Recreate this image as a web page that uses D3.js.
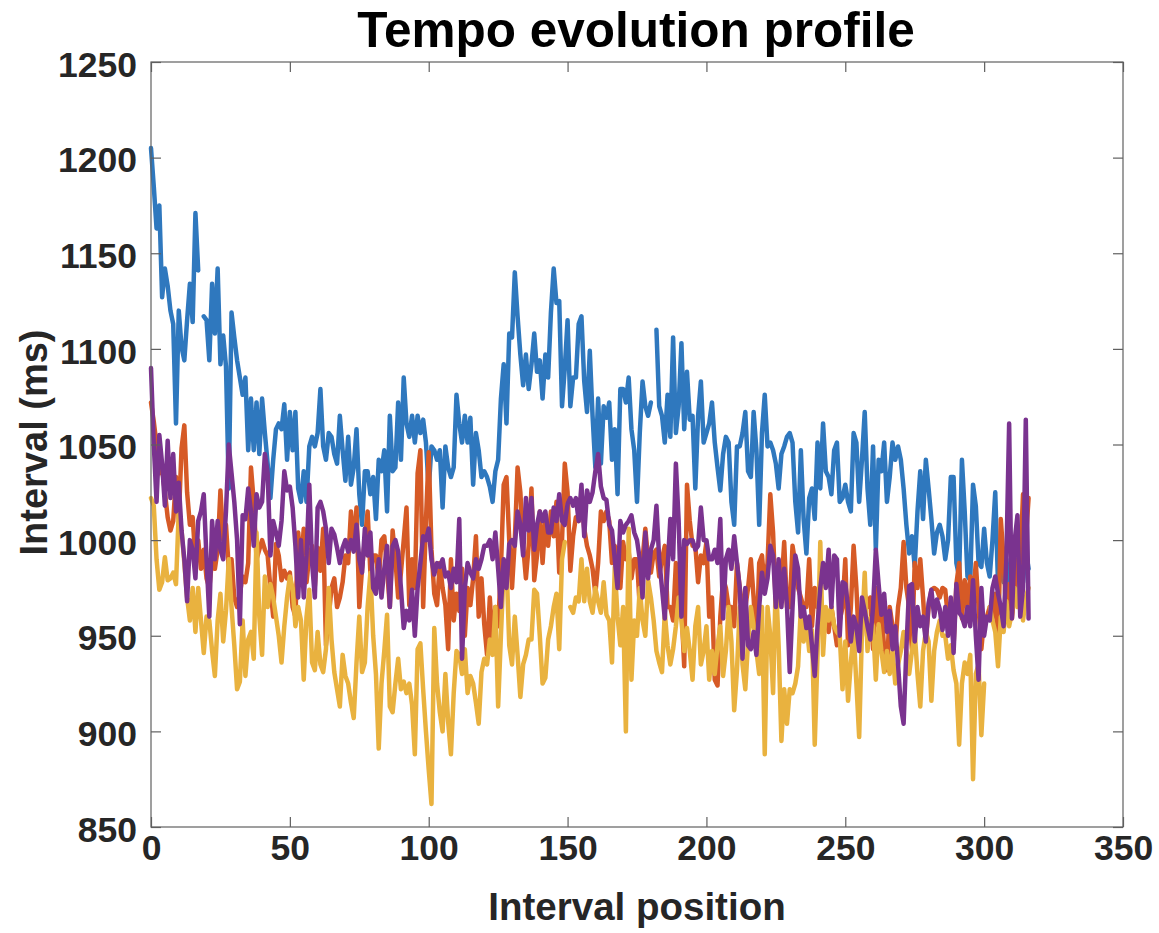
<!DOCTYPE html>
<html>
<head>
<meta charset="utf-8">
<script src="https://cdn.jsdelivr.net/npm/d3@7/dist/d3.min.js"></script>
<style>
  html, body { margin: 0; padding: 0; background: #ffffff; }
  svg { display: block; }
  text { font-family: "Liberation Sans", Arial, Helvetica, sans-serif; font-weight: bold; }
</style>
</head>
<body>
<svg id="chart" width="1159" height="933"></svg>
<script>
// ---- data ----
const title = "Tempo evolution profile";
const xLabel = "Interval position";
const yLabel = "Interval (ms)";
const xTicks = [0, 50, 100, 150, 200, 250, 300, 350];
const yTicks = [850, 900, 950, 1000, 1050, 1100, 1150, 1200, 1250];

const blue = [
1205,1185,1163,1175,1127,1142,1133,1120,1113,1061,1120,1101,1094,1115,1134,1114,1171,1141,null,1117,
1115,1094,1134,1108,1142,1092,1107,1091,1027,1119,1106,1094,1085,1076,1085,1047,1074,1047,1072,1045,
1074,1056,1040,1022,1042,1058,1061,1058,1071,1042,1067,1047,1067,1027,1020,1036,1020,1049,1054,1049,
1056,1079,1049,1042,1056,1054,1045,1040,1065,1047,1031,1054,1029,1038,1058,1024,1008,1036,1036,1024,
1033,1011,1042,1036,1047,1015,1065,1036,1038,1072,1042,1085,1061,1054,1065,1051,1065,1056,1063,1051,
1027,1049,1047,1042,1047,1017,1049,1038,1033,1038,1076,1061,1051,1065,1051,1064,1029,1056,1047,1033,
1036,1033,1028,1020,1036,1042,1074,1092,1061,1108,1106,1140,1117,1097,1081,1097,1079,1092,1108,1088,
1094,1074,1097,1085,1119,1142,1124,1125,1070,1090,1115,1070,1085,1085,1113,1117,1083,1067,1099,1065,
1038,1074,1040,1070,1064,1072,1042,1058,1024,1079,1079,1072,1085,1058,1047,1020,1056,1083,1070,1065,
1072,null,1110,1070,1065,1051,1076,1054,1106,1056,1070,1103,1058,1088,1063,1065,1027,1065,1083,1051,
1056,1061,1072,1051,1038,1026,1045,1054,1051,1020,1008,1049,1049,1056,1067,1036,1033,1067,1047,1008,
1056,1076,1049,1051,1047,1040,1027,1045,1049,1054,1056,1051,1020,1004,1047,1011,993,1022,1027,1011,
1051,1027,1061,1036,1033,1024,1047,1051,1020,1022,1029,1020,1015,1056,1051,1020,1042,1067,1027,1008,
1049,995,1042,1036,1051,1020,1033,1051,1042,1049,1042,1027,1008,993,1002,986,1015,1036,1011,1042,
1027,1011,993,1004,1008,1002,990,1000,1033,1033,988,981,1042,1015,981,979,1029,1018,988,986,
1006,988,981,1000,1025,977,985,978,990,975,982,970,985,990,978,995,985
];

const orange = [
1072,1062,1050,1035,1038,1025,1012,1005,1010,1033,1011,1048,1060,1025,1008,1012,990,1000,985,995,
980,975,990,985,995,1026,1000,1008,985,990,970,965,972,981,978,988,1038,1020,990,995,
1000,995,992,975,960,998,992,979,984,980,983,965,960,1004,986,1006,978,992,997,976,
996,984,1006,945,960,975,980,965,970,978,992,988,1015,996,1017,965,985,1000,1015,983,
992,992,979,1000,1002,985,965,1005,990,970,983,1000,1017,966,990,975,1035,1047,965,1010,
1046,995,972,966,988,975,966,943,990,958,972,963,985,950,975,966,980,1002,960,980,
956,940,970,945,965,955,985,1029,1033,1000,975,1000,1038,1025,997,980,997,1027,979,992,
1015,988,1010,997,1015,1002,1020,983,1000,1040,1025,984,1002,1012,1010,1024,1006,997,992,985,
972,988,1015,1010,1015,1010,988,997,990,975,999,990,994,980,990,990,965,990,1006,990,
983,993,995,981,990,997,965,965,958,988,963,965,934,1029,1010,997,997,978,992,988,
999,960,970,927,924,960,980,975,965,965,955,988,975,965,965,975,990,970,943,988,
992,975,988,1024,1004,965,988,975,999,965,965,997,988,975,970,965,965,990,955,975,
965,970,955,962,952,965,955,945,958,965,990,945,965,997,975,943,950,972,965,970,
943,975,955,965,943,932,965,955,943,965,975,999,975,965,943,988,975,990,970,947,
965,974,975,974,970,975,974,959,967,945,977,988,959,979,965,981,970,988,965,943,
959,960,965,960,972,941,1011,990,959,977,959,975,990,988,1024,1000,1022
];

const yellow = [
1022,1018,990,974,978,991,979,980,983,977,1015,1005,988,970,958,975,952,975,958,941,
960,958,942,929,958,972,947,963,990,965,945,922,926,958,929,948,952,938,1004,960,
940,981,965,977,970,960,950,936,955,970,981,975,955,965,958,927,960,974,936,932,
952,935,931,943,975,948,931,922,913,940,929,925,915,907,936,960,931,936,965,983,
950,930,891,925,942,961,913,910,925,938,922,926,920,925,914,888,943,946,922,900,
880,862,954,925,910,900,930,905,888,920,942,940,930,943,920,929,925,915,904,931,
938,935,948,940,965,913,950,985,988,945,935,960,940,918,935,940,948,948,974,972,
950,925,928,948,955,965,972,943,990,999,null,965,962,970,968,990,968,985,968,962,
975,968,962,978,961,958,936,986,960,945,965,900,1006,927,958,950,975,958,950,979,
970,958,942,936,931,962,945,935,943,955,970,958,942,954,942,927,955,965,935,942,
955,927,942,930,945,955,929,942,965,947,911,932,965,935,922,947,965,955,942,930,
965,888,965,950,920,980,945,895,922,904,922,920,925,934,965,947,958,942,953,893,
940,999,940,965,958,965,955,952,950,922,947,916,936,952,925,897,952,983,942,959,
955,927,956,942,931,942,930,942,925,935,942,952,942,930,942,952,930,913,942,952,
947,916,942,952,958,950,950,938,945,932,925,893,925,936,930,940,875,930,935,898,
925,null,965,958,952,934,960,952,968,955,962,975,965,980,958,970,975
];

const purple = [
1090,1050,1020,1055,1040,1018,1052,1022,1045,1015,1030,1005,990,968,1000,995,980,1010,1015,1024,
990,960,1010,990,1010,995,990,1015,1050,1035,1020,1000,956,1013,1011,1027,1015,997,1024,1017,
1020,1045,1035,992,1010,1004,997,1010,1036,1026,1028,1017,997,970,1000,970,992,1029,988,970,
1017,1020,1015,1006,988,1006,1003,996,988,996,1000,994,1000,994,1008,990,983,1006,992,1004,
975,972,990,970,985,997,965,997,1000,994,975,954,963,958,974,950,975,988,1002,1000,
1006,990,982,988,986,990,981,983,975,985,978,1011,938,975,988,983,980,990,985,990,
997,997,1000,990,1004,985,965,990,975,998,1000,997,1015,1008,992,1022,1005,1022,995,1008,
1015,1010,1015,1004,1004,1017,1010,1024,1010,1008,1019,1022,1018,1022,1010,1029,1002,1026,1020,1025,
1036,1045,1028,1022,1021,1008,1005,990,975,1010,1004,1008,1010,1013,1004,1000,990,970,1004,980,
995,1000,1018,990,975,959,985,1011,990,1040,1010,960,1000,998,1000,1000,995,997,1017,1000,
1000,990,990,995,988,1011,959,990,995,985,1002,988,975,938,975,945,943,952,940,965,
983,972,980,997,992,965,990,965,985,966,931,965,992,985,960,965,954,960,945,929,
955,975,988,975,995,965,992,990,950,978,977,965,947,960,955,942,970,963,955,948,
965,995,977,961,972,952,963,943,955,935,913,904,943,976,977,947,965,955,960,947,
967,974,960,969,964,953,965,950,970,941,977,962,960,955,965,955,979,950,927,975,
950,960,958,975,981,972,965,955,990,1061,959,1000,1013,960,975,1063,959
];

// series in MATLAB plotting order (later ones drawn on top)
const seriesNames = ["blue", "orange", "yellow", "purple"];
const seriesData = [blue, orange, yellow, purple];
const seriesColors = ["#2f78be", "#d65a26", "#e9b23f", "#7a338f"];

// ---- layout ----
const svg = d3.select("#chart");
const L = 151, R = 1123, T = 62, B = 827;

const x = d3.scaleLinear().domain([0, 350]).range([L, R]);
const y = d3.scaleLinear().domain([850, 1250]).range([B, T]);

// plot lines
const line = d3.line()
  .defined(d => d.v !== null)
  .x(d => x(d.i))
  .y(d => y(d.v));

const g = svg.append("g");
seriesData.forEach((arr, k) => {
  const pts = arr.map((v, i) => ({ i: i, v: v }));
  g.append("path")
    .datum(pts)
    .attr("fill", "none")
    .attr("stroke", seriesColors[k])
    .attr("stroke-width", 4.5)
    .attr("stroke-linejoin", "round")
    .attr("stroke-linecap", "round")
    .attr("d", line);
});

// axes with inward ticks on all four sides
const axisColor = "#606060";
const tickLen = 10;
const axB = d3.axisBottom(x).tickValues(xTicks).tickSize(-tickLen).tickPadding(8).tickFormat(d3.format("d"));
const axT = d3.axisTop(x).tickValues(xTicks).tickSize(-tickLen).tickFormat("");
const axLft = d3.axisLeft(y).tickValues(yTicks).tickSize(-tickLen).tickPadding(14).tickFormat(d3.format("d"));
const axRgt = d3.axisRight(y).tickValues(yTicks).tickSize(-tickLen).tickFormat("");

function styleAxis(sel) {
  sel.select(".domain").remove();
  sel.selectAll(".tick line").attr("stroke", axisColor).attr("stroke-width", 1.2);
  sel.selectAll(".tick text")
    .attr("fill", "#262626")
    .style("font-size", "35.5px")
    .style("font-weight", "bold");
}

svg.append("g").attr("transform", `translate(0,${B})`).call(axB).call(styleAxis);
svg.append("g").attr("transform", `translate(0,${T})`).call(axT).call(styleAxis);
const gl = svg.append("g").attr("transform", `translate(${L},0)`).call(axLft).call(styleAxis);
gl.selectAll(".tick text").attr("dy", "0.40em");
svg.append("g").attr("transform", `translate(${R},0)`).call(axRgt).call(styleAxis);

// box
svg.append("rect")
  .attr("x", L).attr("y", T)
  .attr("width", R - L).attr("height", B - T)
  .attr("fill", "none")
  .attr("stroke", axisColor)
  .attr("stroke-width", 1.2);

// title & labels
svg.append("text")
  .attr("x", (L + R) / 2 - 1).attr("y", 47)
  .attr("text-anchor", "middle")
  .attr("fill", "#000000")
  .style("font-size", "49.5px")
  .text(title);

svg.append("text")
  .attr("x", (L + R) / 2).attr("y", 920)
  .attr("text-anchor", "middle")
  .attr("fill", "#262626")
  .style("font-size", "38.5px")
  .text(xLabel);

svg.append("text")
  .attr("transform", `translate(47,${(T + B) / 2 - 2}) rotate(-90)`)
  .attr("text-anchor", "middle")
  .attr("fill", "#262626")
  .style("font-size", "38px")
  .text(yLabel);
</script>
</body>
</html>
